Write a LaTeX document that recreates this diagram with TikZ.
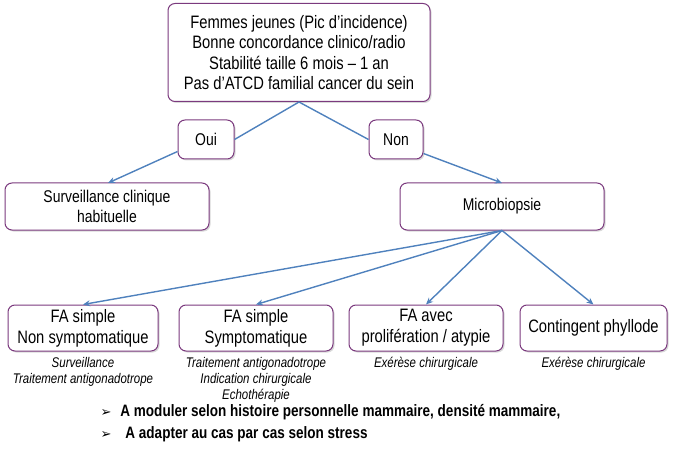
\documentclass[tikz,border=0pt]{standalone}
\usepackage{fontspec}
\setmainfont{Liberation Sans}[FakeStretch=0.82]
\newfontfamily\arrowfont{DejaVu Sans}
\usetikzlibrary{arrows.meta,shadows}
\definecolor{boxc}{HTML}{7B3A7E}
\definecolor{arr}{HTML}{4F81BD}
\begin{document}
\begin{tikzpicture}[x=1pt,y=-1pt,
  box/.style={draw=boxc,line width=1pt,rounded corners=7pt,fill=white,
    drop shadow={shadow xshift=1.5pt,shadow yshift=-1.5pt,opacity=0.3},
    align=center,inner sep=0pt},
  con/.style={draw=arr,line width=1.4pt},
  arrw/.style={con,-{Stealth[length=7pt,width=6pt]}},
  note/.style={font=\fontsize{14}{16}\selectfont\itshape,align=center,anchor=north},
  bul/.style={anchor=west,font=\fontsize{16.5}{20}\selectfont\bfseries}]
\useasboundingbox (0,0) rectangle (674,449);
\node[box,minimum width=262pt,minimum height=98pt,font=\fontsize{18}{20.5}\selectfont] (top) at (299,52.5)
 {Femmes jeunes (Pic d’incidence)\\Bonne concordance clinico/radio\\Stabilité taille 6 mois – 1 an\\Pas d’ATCD familial cancer du sein};
\node[box,minimum width=56pt,minimum height=39pt,font=\fontsize{17}{20}\selectfont] (oui) at (206,139.5) {Oui};
\node[box,minimum width=54pt,minimum height=39pt,font=\fontsize{17}{20}\selectfont] (non) at (396,139.5) {Non};
\node[box,minimum width=204pt,minimum height=47pt,font=\fontsize{17}{20}\selectfont] (surv) at (107,206.5) {Surveillance clinique\\habituelle};
\node[box,minimum width=204pt,minimum height=47pt,font=\fontsize{17}{20}\selectfont] (micro) at (502,206.5) {Microbiopsie};
\node[box,minimum width=150pt,minimum height=46pt,font=\fontsize{18}{21}\selectfont] (b1) at (83,328) {FA simple\\Non symptomatique};
\node[box,minimum width=154pt,minimum height=46pt,font=\fontsize{18}{21}\selectfont] (b2) at (256,328) {FA simple\\Symptomatique};
\node[box,minimum width=154pt,minimum height=46pt,font=\fontsize{18}{21}\selectfont] (b3) at (426,328) {FA avec\\prolifération / atypie};
\node[box,minimum width=147pt,minimum height=46pt,font=\fontsize{18}{21}\selectfont] (b4) at (593.5,328) {Contingent phyllode};
\node[note] (n1) at (b1.south |- 0,354) {Surveillance\\Traitement antigonadotrope};
\node[note] (n2) at (b2.south |- 0,354) {Traitement antigonadotrope\\Indication chirurgicale\\Echothérapie};
\node[note] (n3) at (b3.south |- 0,354) {Exérèse chirurgicale};
\node[note] (n4) at (b4.south |- 0,354) {Exérèse chirurgicale};
\node[bul] (l1) at (97,412) {{\arrowfont\fontsize{13}{14}\selectfont ➢}\hspace{9pt}A moduler selon histoire personnelle mammaire, densité mammaire,};
\node[bul] (l2) at (97,434) {{\arrowfont\fontsize{13}{14}\selectfont ➢}\hspace{14pt}A adapter au cas par cas selon stress};
\draw[con] (top.south) -- (oui.east);
\draw[con] (top.south) -- (non.west);
\draw[arrw] (oui.south west) ++(0,-8) -- (108,183);
\draw[arrw] (non.south east) ++(0,-6) -- (502,183);
\draw[arrw] (micro.south) -- (b1.north);
\draw[arrw] (micro.south) -- (b2.north);
\draw[arrw] (micro.south) -- (b3.north);
\draw[arrw] (micro.south) -- (b4.north);
\end{tikzpicture}
\end{document}
